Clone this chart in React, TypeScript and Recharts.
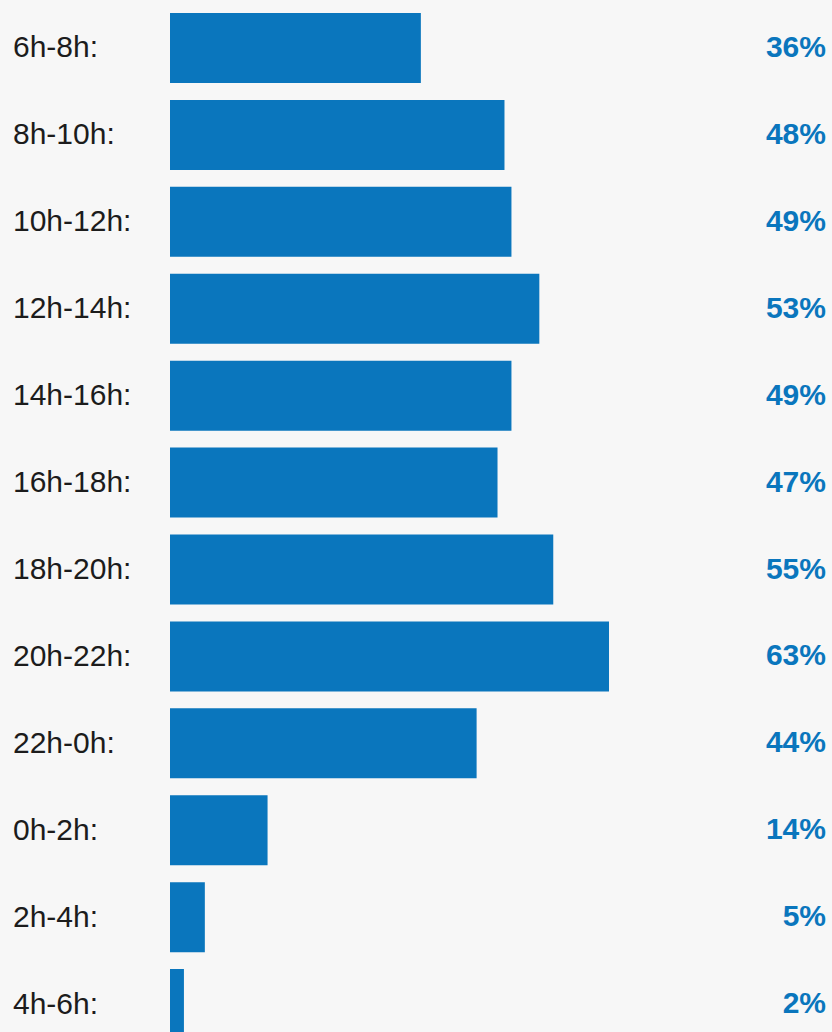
import { BarChart, Bar, XAxis, YAxis, LabelList } from 'recharts';

const slots = ['6h-8h:', '8h-10h:', '10h-12h:', '12h-14h:', '14h-16h:', '16h-18h:', '18h-20h:', '20h-22h:', '22h-0h:', '0h-2h:', '2h-4h:', '4h-6h:'];
const shares = [36, 48, 49, 53, 49, 47, 55, 63, 44, 14, 5, 2];

const W = 832;
const BLUE = '#0a76bd';

const data = slots.map((slot, i) => ({ slot, share: shares[i] }));

const SlotTick = (props: any) => {
  const { y, payload } = props;
  return (
    <text x={13} y={y} dy={9} textAnchor="start" fontSize={30} fill="#1c1c1c" fontFamily="'Liberation Sans', Arial, sans-serif">
      {payload.value}
    </text>
  );
};

const ShareLabel = (props: any) => {
  const { y, height, value } = props;
  return (
    <text x={W - 6} y={y + height / 2} dy={9} textAnchor="end" fontSize={30} fontWeight="bold" fill={BLUE} fontFamily="'Liberation Sans', Arial, sans-serif">
      {value}%
    </text>
  );
};

export default function App() {
  return (
    <div style={{ position: 'absolute', top: 0, left: 0, width: W, height: 1032, overflow: 'hidden', background: '#f7f7f7' }}>
      <BarChart width={W} height={1050} data={data} layout="vertical" margin={{ top: 5, right: 0, bottom: 2, left: 0 }}>
        <XAxis type="number" domain={[0, 95]} hide />
        <YAxis type="category" dataKey="slot" width={170} axisLine={false} tickLine={false} tick={<SlotTick />} interval={0} />
        <Bar dataKey="share" fill={BLUE} barSize={70} isAnimationActive={false}>
          <LabelList dataKey="share" content={<ShareLabel />} />
        </Bar>
      </BarChart>
    </div>
  );
}
